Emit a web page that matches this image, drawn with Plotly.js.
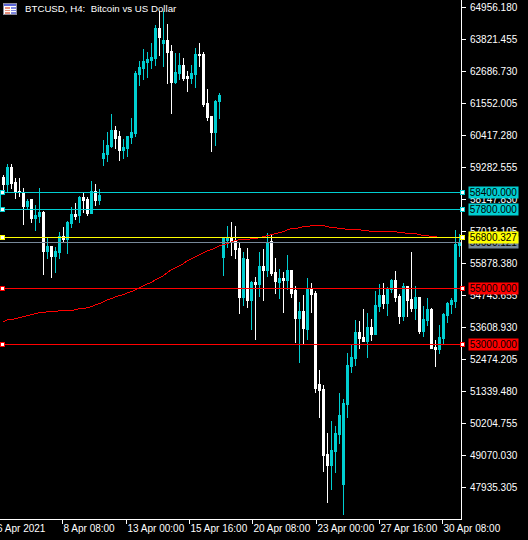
<!DOCTYPE html>
<html><head><meta charset="utf-8">
<script src="https://cdn.plot.ly/plotly-3.0.1.min.js"></script>
<style>html,body{margin:0;padding:0;background:#000}
#c path{shape-rendering:crispEdges}</style>
</head><body><div id="c" style="width:528px;height:540px"></div>
<script>
const opens=[58928,58679,59282,58750,58431,58396,57899,58147,57474,57545,57686,56304,56481,56126,56268,56835,56729,57296,57616,57580,58218,58147,57651,58431,58112,
59601,59743,60027,60594,60381,59885,59956,60346,60488,62580,62793,63005,63076,63147,64211,63679,63786,63396,62296,62615,62899,62509,62438,62580,63289,63289,61552,61091,60523,61623,
56091,56694,56765,56658,56410,54672,56020,54566,55204,55133,55772,55630,56658,55559,55204,55346,55275,55630,54921,53928,54176,53538,54956,54814,51587,51410,49105,48715,49212,49814,48041,50878,52226,52509,53431,53254,53112,53609,53360,54353,54743,54460,54956,55275,54708,53999,55062,54601,54282,54672,53467,53857,54247,52899,52828,53219,54034,54424,54531,56516];
const highs=[59034,59424,59424,58928,58928,58573,58183,58147,57970,58573,57757,56835,56516,56481,57013,57190,57403,57899,58041,58289,58396,58254,58821,58715,58538,
60275,60559,61197,60771,60594,60311,60417,61055,62722,63076,63502,63396,63715,64353,64849,64849,64388,63644,63360,63360,63183,62722,62935,63537,63715,63396,62084,61126,61693,61942,
56765,57225,57367,57225,56623,56304,56445,55275,55417,56304,56410,56977,56942,56091,55701,55594,56197,55630,55098,54531,54779,55382,55204,54921,52119,51587,49885,50311,50133,51304,51091,52722,53041,53892,53857,54282,54140,53928,54921,55169,55204,55062,55346,55630,54814,55204,55062,56304,55098,54708,54389,54672,54318,53183,53715,54140,54531,54672,57084,56942];
const lows=[58502,58396,58538,58183,58254,57261,57828,57332,57048,57332,55488,56055,55382,55559,56055,56623,56233,57155,57438,57332,57686,57580,57651,57935,57970,
59353,59495,59991,59956,59530,59601,59672,60133,60381,62190,62403,62474,62793,62899,63254,62864,62261,61197,62261,62403,62367,61977,62261,62119,62864,61445,60949,59850,60062,61020,
55452,56445,56162,56055,54105,54389,54318,53538,53183,54708,54566,55417,55452,54814,54637,54140,54956,54672,53077,52367,53006,53183,54140,51304,50417,48502,47403,47864,48467,49495,46978,50417,52013,52261,52864,53112,52545,53148,53360,54176,54282,54034,54850,54531,53750,53857,53999,54176,53892,53396,53289,53679,52864,52226,52687,53041,53786,54105,54318,56126];
const closes=[58679,59282,58715,58396,58396,57899,58077,57474,57580,57686,56304,56481,56126,56304,56835,56729,57332,57616,57545,58218,58112,57651,58431,58112,58289,
59779,60062,60594,60311,59885,59991,60381,60523,62615,62828,63041,63112,63183,64211,63892,63786,63360,62296,62651,62899,62438,62438,62615,63289,63254,61516,61055,60523,61623,61835,
56765,56765,56658,56374,54672,56055,54566,55204,55133,55772,55630,56623,55523,55240,55346,55275,55630,54814,53928,54176,53573,54956,54779,51446,51375,49070,48715,49247,49850,50488,50914,52261,52545,53431,53219,53112,53609,53360,54389,54743,54460,54956,55275,54672,53999,55062,54566,54282,54672,53467,53892,54247,52864,52828,53254,54070,54460,54566,56552,56623];
const maValues=[53821,53892,53892,53928,53963,53999,54034,54070,54105,54140,54140,54176,54176,54176,54211,54211,54211,54211,54247,54282,54282,54318,54353,54424,54460,
54531,54602,54637,54708,54743,54779,54850,54885,54956,55027,55098,55169,55204,55311,55382,55452,55559,55665,55736,55807,55878,55984,56055,56126,56197,56268,56339,56374,56445,56516,
56552,56587,56658,56694,56729,56729,56729,56765,56765,56800,56835,56871,56906,56942,56977,57013,57084,57119,57119,57155,57190,57190,57225,57225,57225,57225,57190,57155,57155,57119,57119,57084,57084,57084,57084,57048,57048,57013,57013,57013,57013,57013,57013,57013,56977,56977,56942,56942,56942,56906,56871,56871,56835,56835,56800,56800,56800,56800,56800,56800];
const priceTicks=[64956.18,63821.455,62686.73,61552.005,60417.28,59282.555,58147.83,57013.105,55878.38,54743.655,53608.93,52474.205,51339.48,50204.755,49070.03,47935.305];
const timeTicks=[14.75,30.75,46.5,62.25,78.25,94,109.75];
const timeLabels=['8 Apr 08:00','13 Apr 00:00','15 Apr 16:00','20 Apr 08:00','23 Apr 00:00','27 Apr 16:00','30 Apr 08:00'];
const firstTimeLabel='6 Apr 2021';
const titleText='BTCUSD, H4:\u00a0\u00a0Bitcoin vs US Dollar';
const levelPrices=[58400,57800,56800.327,55000,53000];
const levelColors=['#00CED1','#00CED1','#FFFF00','#FF0000','#FF0000'];
const levelNames=['58400.000','57800.000','56800.327','55000.000','53000.000'];
const bidPrice=56630.121;
const bidColor='#778899';
const bidName='56630.121';

const W=461,H=519;
const FONT='"Liberation Sans",sans-serif';
const px=v=>v/W, py=v=>1-v/H;
const bars=opens.map((_,i)=>i);
const rect=(x0,y0,x1,y1,c)=>({type:'rect',xref:'paper',yref:'paper',x0:px(x0),x1:px(x1),y0:py(y0),y1:py(y1),fillcolor:c,line:{width:0},layer:'above'});
const hline=(p,c)=>({type:'line',xref:'paper',yref:'y',x0:0,x1:1,y0:p,y1:p,line:{color:c,width:1},layer:'above'});
const handle=(xp,p,c)=>({type:'rect',xref:'paper',yref:'y',ysizemode:'pixel',yanchor:p,x0:px(xp-2),x1:px(xp+2),y0:-2,y1:2,fillcolor:'#fff',line:{color:c,width:1},layer:'above'});

const shapes=[hline(bidPrice,bidColor)].concat(levelPrices.map((p,i)=>hline(p,levelColors[i])));
shapes.push({type:'line',xref:'paper',yref:'y',x0:px(0.5),x1:px(0.5),y0:levelPrices[0],y1:levelPrices[1],line:{color:'#00CED1',width:1},layer:'above'});
levelPrices.forEach((p,i)=>{shapes.push(handle(2.5,p,levelColors[i]));shapes.push(handle(462.5,p,levelColors[i]));});
shapes.push(rect(3,3,17,15,'#8c8c9c'),rect(4,4,16,14,'#ffffff'),rect(4,4,16,6,'#5a66d8'),rect(5,7,10,14,'#e8907c'),rect(11,7,16,14,'#8088e0'),
 rect(5,9,16,10,'#ffffff'),rect(5,11,16,12,'#ffffff'));

const annotations=[];
annotations.push({xref:'paper',yref:'paper',x:px(22.5),y:py(8.5),xanchor:'left',yanchor:'middle',showarrow:false,text:titleText,font:{family:FONT,size:9.7,color:'#fff'}});
annotations.push({xref:'paper',yref:'paper',x:px(-5),y:py(528),xanchor:'left',yanchor:'middle',showarrow:false,text:firstTimeLabel,font:{family:FONT,size:10,color:'#fff'}});
const lab=(p,t,c)=>({xref:'paper',yref:'y',x:px(468),y:p,xanchor:'left',yanchor:'middle',showarrow:false,text:t,bgcolor:c,width:49,height:11,borderpad:0,align:'center',font:{family:FONT,size:10,color:'#000'}});
annotations.push(lab(bidPrice,bidName,bidColor));
levelPrices.forEach((p,i)=>annotations.push(lab(p,levelNames[i],levelColors[i])));

const traces=[
 {type:'candlestick',x:bars,open:opens,high:highs,low:lows,close:closes,whiskerwidth:0,showlegend:false,hoverinfo:'skip',
  increasing:{line:{color:'#00CED1',width:1},fillcolor:'#00CED1'},decreasing:{line:{color:'#FFFFFF',width:1},fillcolor:'#FFFFFF'}},
 {type:'scatter',mode:'lines',x:bars,y:maValues,showlegend:false,hoverinfo:'skip',line:{color:'#FF0000',width:1}}
];
const layout={width:528,height:540,margin:{l:0,r:67,t:0,b:21,pad:0},paper_bgcolor:'#000',plot_bgcolor:'#000',showlegend:false,dragmode:false,
 boxgap:0.5,
 xaxis:{type:'linear',range:[-0.875,114.375],rangeslider:{visible:false},showgrid:false,zeroline:false,showline:true,linecolor:'#fff',linewidth:1,
  tickmode:'array',tickvals:timeTicks,ticktext:timeLabels,ticks:'outside',ticklen:4,tickcolor:'#fff',tickwidth:1,ticklabelposition:'outside right',
  tickfont:{family:FONT,size:10,color:'#fff'},tickangle:0,automargin:false},
 yaxis:{type:'linear',side:'right',range:[46822,65226],showgrid:false,zeroline:false,showline:true,linecolor:'#fff',linewidth:1,
  tickmode:'array',tickvals:priceTicks,ticktext:priceTicks.map(v=>v.toFixed(3)),ticks:'outside',ticklen:4,tickcolor:'#fff',tickwidth:1,ticklabelstandoff:2,
  tickfont:{family:FONT,size:10,color:'#fff'},automargin:false},
 shapes:shapes,annotations:annotations};
Plotly.newPlot('c',traces,layout,{displayModeBar:false,staticPlot:true});
</script></body></html>
